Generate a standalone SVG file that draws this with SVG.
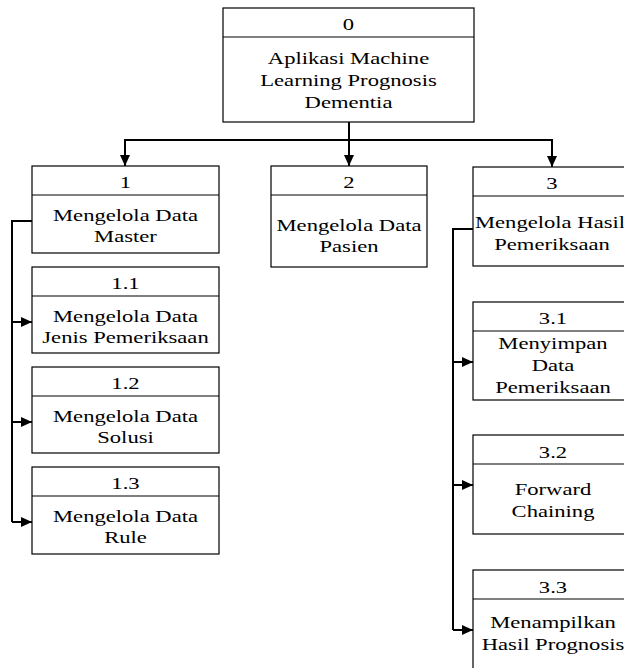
<svg xmlns="http://www.w3.org/2000/svg" width="624" height="668" viewBox="0 0 624 668">
<style>
.box{fill:#fff;stroke:#000;stroke-width:1.2}
.div{stroke:#000;stroke-width:1.2}
.t{font-family:"Liberation Serif","Times New Roman",serif;font-size:17px;fill:#000;text-anchor:middle}
.c{fill:none;stroke:#000;stroke-width:2}
</style>
<defs>
<marker id="ah" markerWidth="12" markerHeight="12" refX="11" refY="6" orient="auto" markerUnits="userSpaceOnUse">
<path d="M0,1 L11,6 L0,11 Z" fill="#000"/>
</marker>
</defs>
<rect width="624" height="668" fill="#fff"/>
<g id="connectors">
<path class="c" d="M349,122 V166" marker-end="url(#ah)"/>
<path class="c" d="M125,140 H552"/>
<path class="c" d="M125,139 V166" marker-end="url(#ah)"/>
<path class="c" d="M552,139 V167" marker-end="url(#ah)"/>
<path class="c" d="M32,221 H12 V522"/>
<path class="c" d="M12,322 H32" marker-end="url(#ah)"/>
<path class="c" d="M12,422 H32" marker-end="url(#ah)"/>
<path class="c" d="M12,522 H32" marker-end="url(#ah)"/>
<path class="c" d="M473,229 H453 V630"/>
<path class="c" d="M453,362 H473" marker-end="url(#ah)"/>
<path class="c" d="M453,485 H473" marker-end="url(#ah)"/>
<path class="c" d="M453,630 H473" marker-end="url(#ah)"/>
</g>
<g id="n0">
<rect class="box" x="223" y="8" width="251" height="114"/>
<line class="div" x1="223" y1="37" x2="474" y2="37"/>
<text class="t" transform="translate(348.5,30) scale(1.33,1)">0</text>
<text class="t" transform="translate(348.5,64) scale(1.33,1)">Aplikasi Machine</text>
<text class="t" transform="translate(348.5,86) scale(1.33,1)">Learning Prognosis</text>
<text class="t" transform="translate(348.5,108) scale(1.33,1)">Dementia</text>
</g>
<g id="n1">
<rect class="box" x="32" y="166" width="187" height="87"/>
<line class="div" x1="32" y1="195" x2="219" y2="195"/>
<text class="t" transform="translate(125.5,188) scale(1.33,1)">1</text>
<text class="t" transform="translate(125.5,221) scale(1.33,1)">Mengelola Data</text>
<text class="t" transform="translate(125.5,242) scale(1.33,1)">Master</text>
</g>
<g id="n1_1">
<rect class="box" x="32" y="267" width="187" height="86"/>
<line class="div" x1="32" y1="296" x2="219" y2="296"/>
<text class="t" transform="translate(125.5,289) scale(1.33,1)">1.1</text>
<text class="t" transform="translate(125.5,322) scale(1.33,1)">Mengelola Data</text>
<text class="t" transform="translate(125.5,343) scale(1.33,1)">Jenis Pemeriksaan</text>
</g>
<g id="n1_2">
<rect class="box" x="32" y="367" width="187" height="86"/>
<line class="div" x1="32" y1="396" x2="219" y2="396"/>
<text class="t" transform="translate(125.5,389) scale(1.33,1)">1.2</text>
<text class="t" transform="translate(125.5,422) scale(1.33,1)">Mengelola Data</text>
<text class="t" transform="translate(125.5,443) scale(1.33,1)">Solusi</text>
</g>
<g id="n1_3">
<rect class="box" x="32" y="467" width="187" height="87"/>
<line class="div" x1="32" y1="496" x2="219" y2="496"/>
<text class="t" transform="translate(125.5,489) scale(1.33,1)">1.3</text>
<text class="t" transform="translate(125.5,522) scale(1.33,1)">Mengelola Data</text>
<text class="t" transform="translate(125.5,543) scale(1.33,1)">Rule</text>
</g>
<g id="n2">
<rect class="box" x="271" y="166" width="156" height="101"/>
<line class="div" x1="271" y1="195" x2="427" y2="195"/>
<text class="t" transform="translate(349,188) scale(1.33,1)">2</text>
<text class="t" transform="translate(349,231) scale(1.33,1)">Mengelola Data</text>
<text class="t" transform="translate(349,252) scale(1.33,1)">Pasien</text>
</g>
<g id="n3">
<rect class="box" x="473" y="167" width="160" height="99"/>
<line class="div" x1="473" y1="196" x2="633" y2="196"/>
<text class="t" transform="translate(552,189) scale(1.33,1)">3</text>
<text class="t" transform="translate(550,228) scale(1.33,1)">Mengelola Hasil</text>
<text class="t" transform="translate(552,250) scale(1.33,1)">Pemeriksaan</text>
</g>
<g id="n3_1">
<rect class="box" x="473" y="302" width="160" height="98"/>
<line class="div" x1="473" y1="331" x2="633" y2="331"/>
<text class="t" transform="translate(553,324) scale(1.33,1)">3.1</text>
<text class="t" transform="translate(553,349) scale(1.33,1)">Menyimpan</text>
<text class="t" transform="translate(553,371) scale(1.33,1)">Data</text>
<text class="t" transform="translate(553,393) scale(1.33,1)">Pemeriksaan</text>
</g>
<g id="n3_2">
<rect class="box" x="473" y="435" width="160" height="99"/>
<line class="div" x1="473" y1="464" x2="633" y2="464"/>
<text class="t" transform="translate(553,458) scale(1.33,1)">3.2</text>
<text class="t" transform="translate(553,495) scale(1.33,1)">Forward</text>
<text class="t" transform="translate(553,517) scale(1.33,1)">Chaining</text>
</g>
<g id="n3_3">
<rect class="box" x="473" y="570" width="160" height="110"/>
<line class="div" x1="473" y1="599" x2="633" y2="599"/>
<text class="t" transform="translate(553,593) scale(1.33,1)">3.3</text>
<text class="t" transform="translate(553,628) scale(1.33,1)">Menampilkan</text>
<text class="t" transform="translate(553,650) scale(1.33,1)">Hasil Prognosis</text>
</g>
</svg>
